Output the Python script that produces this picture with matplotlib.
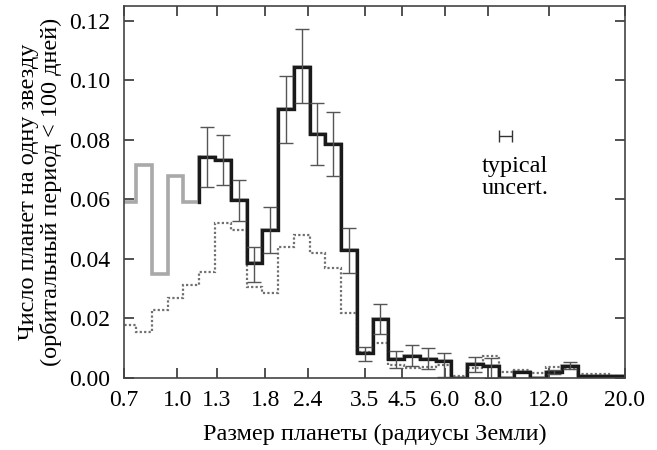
import numpy as np
import matplotlib
matplotlib.use("Agg")
from matplotlib import pyplot as plt
from matplotlib.ticker import FixedLocator, FixedFormatter, NullLocator

plt.rcParams['font.family'] = ['Liberation Serif', 'DejaVu Serif']

# ширина бина в dex, правый край = 20 R_earth
bin_dex = 0.04584
n_bins = 32
edges = 20.0 / 10 ** (bin_dex * np.arange(n_bins, -1, -1))

# серая линия: низкая полнота (первые 5 бинов)
gray_low = [0.0592, 0.0716, 0.035, 0.068, 0.0592]

# черная линия (бины 5..31)
black_vals = [0.0743, 0.0733, 0.0598, 0.0385, 0.0497, 0.0904, 0.1046, 0.0819,
              0.0785, 0.043, 0.0083, 0.0197, 0.0064, 0.0073, 0.0064, 0.0058,
              0.0, 0.0046, 0.0040, 0.0, 0.0019, 0.0, 0.0020, 0.0040,
              0.0006, 0.0006, 0.0006]

# пунктир (все бины)
dotted_vals = [0.0178, 0.0156, 0.0229, 0.0268, 0.0313, 0.0357, 0.0522, 0.0497,
               0.0307, 0.0285, 0.0441, 0.0481, 0.0419, 0.0369, 0.022, 0.0088,
               0.0119, 0.0042, 0.0035, 0.0037, 0.0045, 0.0008, 0.0035, 0.0075,
               0.002, 0.0028, 0.0018, 0.0037, 0.0031, 0.0015, 0.0013, 0.0007]

nan = np.nan
err_hi = [0.0843, 0.0815, 0.0666, 0.0441, 0.0574, 0.1016, 0.1172, 0.0923,
          0.0893, 0.0505, 0.0105, 0.0249, 0.0092, 0.0112, 0.0101, 0.0085,
          nan, 0.0070, 0.0066, nan, nan, nan, 0.0027, 0.0055, nan, nan, nan]
err_lo = [0.064, 0.0649, 0.0528, 0.0324, 0.0421, 0.0791, 0.0923, 0.0716,
          0.0677, 0.0352, 0.0058, 0.0148, 0.0033, 0.004, 0.0029, 0.0004,
          nan, 0.002, 0.0, nan, nan, nan, 0.0013, 0.003, nan, nan, nan]

tick_vals = [0.7, 1.0, 1.3, 1.8, 2.4, 3.5, 4.5, 6.0, 8.0, 12.0, 20.0]
tick_labels = ["0.7", "1.0", "1.3", "1.8", "2.4", "3.5", "4.5", "6.0", "8.0", "12.0", "20.0"]

typ_x = 9.0
typ_y = 0.0813
typ_dex = 0.02

fig = plt.figure(figsize=(6.57, 4.5), dpi=100)
ax = fig.add_axes([0.189, 0.16, 0.762, 0.827])

gray_all = np.array(gray_low + black_vals)
black = np.array(black_vals)
k0 = len(gray_low)

ax.stairs(gray_all, edges, baseline=None, color="#a9a9a9", lw=2.6)
ax.stairs(dotted_vals, edges, baseline=None, color="#707070", lw=1.6,
          linestyle=(0, (1, 1)))
ax.plot([edges[k0], edges[k0]], [gray_low[-1], black[0]], color="#1a1a1a", lw=2.4)
ax.stairs(black, edges[k0:], baseline=None, color="#1a1a1a", lw=2.4)

centers = np.sqrt(edges[k0:-1] * edges[k0 + 1:])
hi = np.array(err_hi)
lo = np.array(err_lo)
m = ~np.isnan(hi)
ax.errorbar(centers[m], black[m], yerr=[black[m] - lo[m], hi[m] - black[m]],
            fmt="none", ecolor="#555555", elinewidth=1.0, capsize=5, capthick=1.0)

ax.errorbar([typ_x], [typ_y],
            xerr=[[typ_x - typ_x / 10 ** typ_dex], [typ_x * 10 ** typ_dex - typ_x]],
            fmt="none", ecolor="#333333", elinewidth=1.0, capsize=4, capthick=1.0)
ax.text(9.6, 0.0745, "typical\nuncert.", ha="center", va="top", fontsize=17.5,
        linespacing=1.05)

ax.set_xscale("log")
ax.set_xlim(0.7, 20.0)
ax.set_ylim(0, 0.125)
ax.xaxis.set_major_locator(FixedLocator(tick_vals))
ax.xaxis.set_major_formatter(FixedFormatter(tick_labels))
ax.xaxis.set_minor_locator(NullLocator())
ax.set_yticks([0.0, 0.02, 0.04, 0.06, 0.08, 0.10, 0.12])
ax.set_yticklabels(["0.00", "0.02", "0.04", "0.06", "0.08", "0.10", "0.12"])
ax.tick_params(direction="in", top=True, right=True, length=7, width=1.2,
               labelsize=17, color="#333333")
ax.tick_params(axis="x", pad=9)
ax.tick_params(axis="y", pad=10)
for s in ax.spines.values():
    s.set_color("#444444")
    s.set_linewidth(1.2)

ax.set_xlabel("Размер планеты (радиусы Земли)", fontsize=17.5, labelpad=9)
ax.set_ylabel("Число планет на одну звезду\n(орбитальный период < 100 дней)",
              fontsize=17.5, labelpad=5, linespacing=1.1)

fig.savefig("out.png", dpi=100)
